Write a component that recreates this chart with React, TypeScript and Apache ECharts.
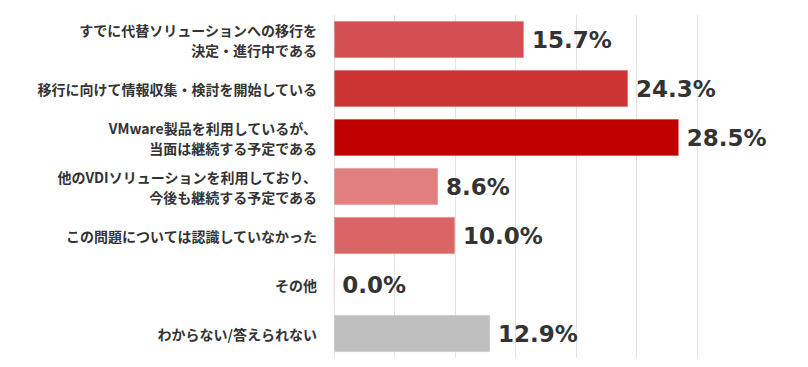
import React, { useEffect, useRef } from "react";
import * as echarts from "echarts";

const categories = [
  "すでに代替ソリューションへの移行を\n決定・進行中である",
  "移行に向けて情報収集・検討を開始している",
  "VMware製品を利用しているが、\n当面は継続する予定である",
  "他のVDIソリューションを利用しており、\n今後も継続する予定である",
  "この問題については認識していなかった",
  "その他",
  "わからない/答えられない",
];
const values = [15.7, 24.3, 28.5, 8.6, 10.0, 0.0, 12.9];
const barColors = ["#D44F52", "#CC3434", "#C00000", "#E07E80", "#DB6466", "#DB6466", "#BFBFBF"];

export default function App() {
  const ref = useRef<HTMLDivElement>(null);
  useEffect(() => {
    if (!ref.current) return;
    const chart = echarts.init(ref.current, null, { renderer: "svg" });
    chart.setOption({
      animation: false,
      grid: { left: 326, right: 103, top: 7, bottom: 9, containLabel: false },
      xAxis: {
        type: "value",
        min: 0,
        max: 30,
        interval: 5,
        axisLabel: { show: false },
        axisLine: { show: false },
        axisTick: { show: false },
        splitLine: { show: true, lineStyle: { color: "#E3E3E3", width: 1 } },
      },
      yAxis: {
        type: "category",
        inverse: true,
        data: categories,
        axisLine: { show: false },
        axisTick: { show: false },
        axisLabel: {
          margin: 17,
          color: "#333333",
          fontSize: 14,
          fontWeight: "bold",
          fontFamily: "'Noto Sans CJK JP', sans-serif",
          lineHeight: 20,
          align: "right",
          padding: [0, 0, 12, 0],
        },
      },
      series: [
        {
          type: "bar",
          data: values.map((v, i) => ({
            value: v,
            itemStyle: { color: barColors[i], borderColor: "rgba(255,200,200,0.6)", borderWidth: 0.5 },
          })),
          barCategoryGap: "24%",
          label: {
            show: true,
            position: "right",
            distance: 8,
            formatter: (p: any) => p.value.toFixed(1) + "%",
            color: "#333333",
            fontSize: 23,
            fontWeight: "bold",
            fontFamily: "'DejaVu Sans', sans-serif",
          },
        },
      ],
    });
    return () => chart.dispose();
  }, []);
  return <div ref={ref} style={{ width: 792, height: 359 }} />;
}
